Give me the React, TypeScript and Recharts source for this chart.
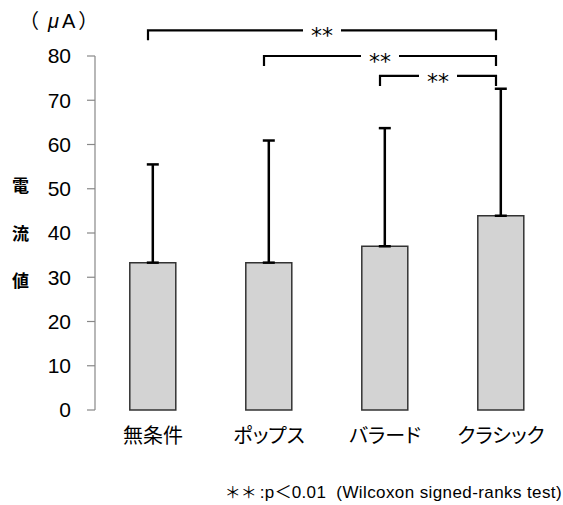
import React from 'react';
import { BarChart, Bar, XAxis, YAxis, ErrorBar, ReferenceLine } from 'recharts';

const categories = ['無条件', 'ポップス', 'バラード', 'クラシック'];
const means = [33.3, 33.3, 37.0, 43.9];
const sdUpper = [22.2, 27.6, 26.7, 28.7];
const yTicks = [0, 10, 20, 30, 40, 50, 60, 70, 80];
const boundaryTicks = [0, 1, 2, 3, 4];
const bracketFrom = ['無条件', 'ポップス', 'バラード'];
const bracketTo = ['クラシック', 'クラシック', 'クラシック'];
const bracketLevel = [85.8, 80.0, 75.5];
const bracketLabel = ['**', '**', '**'];
const unitParts = ['（', 'μ', 'A', '）'];
const yLabelChars = ['電', '流', '値'];
const footStars = '＊＊';
const footP = ':p';
const footLt = '＜';
const footVal = '0.01';
const footTest = '(Wilcoxon signed-ranks test)';

const data = categories.map((c, i) => ({ name: c, value: means[i], err: [0, sdUpper[i]] }));

const makeBracket = (label: string) => (props: any) => {
  const { x1, y1, x2 } = props;
  const dx = -5;
  const drop = 10;
  const half = 19;
  const l = x1 + dx;
  const r = x2 + dx;
  const y = y1;
  const mid = (l + r) / 2;
  return (
    <g>
      <path
        d={`M${l},${y + drop}V${y}H${mid - half}M${mid + half},${y}H${r}V${y + drop}`}
        stroke="#000"
        strokeWidth={2.2}
        fill="none"
      />
      <text x={mid} y={y + 13} textAnchor="middle" fontSize={22} fontFamily="DejaVu Sans" fill="#000">
        {label}
      </text>
    </g>
  );
};

const abs = (style: React.CSSProperties): React.CSSProperties => ({
  position: 'absolute',
  whiteSpace: 'nowrap',
  lineHeight: 1,
  color: '#000',
  ...style,
});

export default function App() {
  return (
    <div style={{ position: 'absolute', left: 0, top: 0, width: 563, height: 505, background: '#fff' }}>
      <BarChart
        width={563}
        height={505}
        data={data}
        margin={{ top: 56, right: 4, bottom: 0, left: 0 }}
        barCategoryGap="30%"
      >
        <XAxis
          xAxisId="b"
          type="number"
          dataKey="value"
          domain={[0, 4]}
          ticks={boundaryTicks}
          tick={false}
          tickSize={7}
          height={0}
          stroke="#888"
          axisLine={{ stroke: '#888', strokeWidth: 1.2 }}
          tickLine={{ stroke: '#888', strokeWidth: 1.2 }}
          allowDataOverflow
        />
        <XAxis
          dataKey="name"
          height={95}
          axisLine={false}
          tickLine={false}
          tickSize={0}
          tickMargin={19}
          interval={0}
          tick={{ fill: '#000', fontSize: 20, fontFamily: 'Noto Sans CJK JP', style: { fontFeatureSettings: '"palt"' } }}
        />
        <YAxis
          domain={[0, 80]}
          ticks={yTicks}
          width={95}
          tickSize={8}
          tickMargin={16}
          interval={0}
          axisLine={{ stroke: '#888', strokeWidth: 1.2 }}
          tickLine={{ stroke: '#888', strokeWidth: 1.2 }}
          tick={{ fill: '#000', fontSize: 21, fontFamily: 'Liberation Sans' }}
        />
        <Bar dataKey="value" fill="#d3d3d3" stroke="#333" strokeWidth={1.5} isAnimationActive={false}>
          <ErrorBar dataKey="err" direction="y" width={6} stroke="#000" strokeWidth={2.5} />
        </Bar>
        {bracketLevel.map((lv, i) => (
          <ReferenceLine
            key={i}
            ifOverflow="visible"
            segment={[
              { x: bracketFrom[i], y: lv },
              { x: bracketTo[i], y: lv },
            ]}
            shape={makeBracket(bracketLabel[i])}
          />
        ))}
      </BarChart>
      <div style={abs({ left: 19, top: 10, fontSize: 20, fontFamily: "'Liberation Sans','Noto Sans CJK JP'" })}>
        <span style={{ fontFamily: 'Noto Sans CJK JP' }}>{unitParts[0]}</span>
        <span style={{ marginLeft: 9, fontStyle: 'italic' }}>{unitParts[1]}</span>
        <span style={{ marginLeft: 3 }}>{unitParts[2]}</span>
        <span style={{ marginLeft: 3, fontFamily: 'Noto Sans CJK JP' }}>{unitParts[3]}</span>
      </div>
      {yLabelChars.map((ch, i) => (
        <div
          key={ch}
          style={abs({ left: 12, top: [176, 224, 271][i], fontSize: 17, fontWeight: 'bold', fontFamily: 'Noto Sans CJK JP' })}
        >
          {ch}
        </div>
      ))}
      <div style={abs({ right: 1, top: 482, fontSize: 17, letterSpacing: 0.4, fontFamily: "'Liberation Sans','Noto Sans CJK JP'" })}>
        <span style={{ fontFamily: 'Noto Sans CJK JP', fontSize: 16, letterSpacing: 0 }}>{footStars}</span>
        <span style={{ marginLeft: 3 }}>{footP}</span>
        <span style={{ fontFamily: 'Noto Sans CJK JP', letterSpacing: 0 }}>{footLt}</span>
        <span>{footVal}</span>
        <span style={{ marginLeft: 10 }}>{footTest}</span>
      </div>
    </div>
  );
}
